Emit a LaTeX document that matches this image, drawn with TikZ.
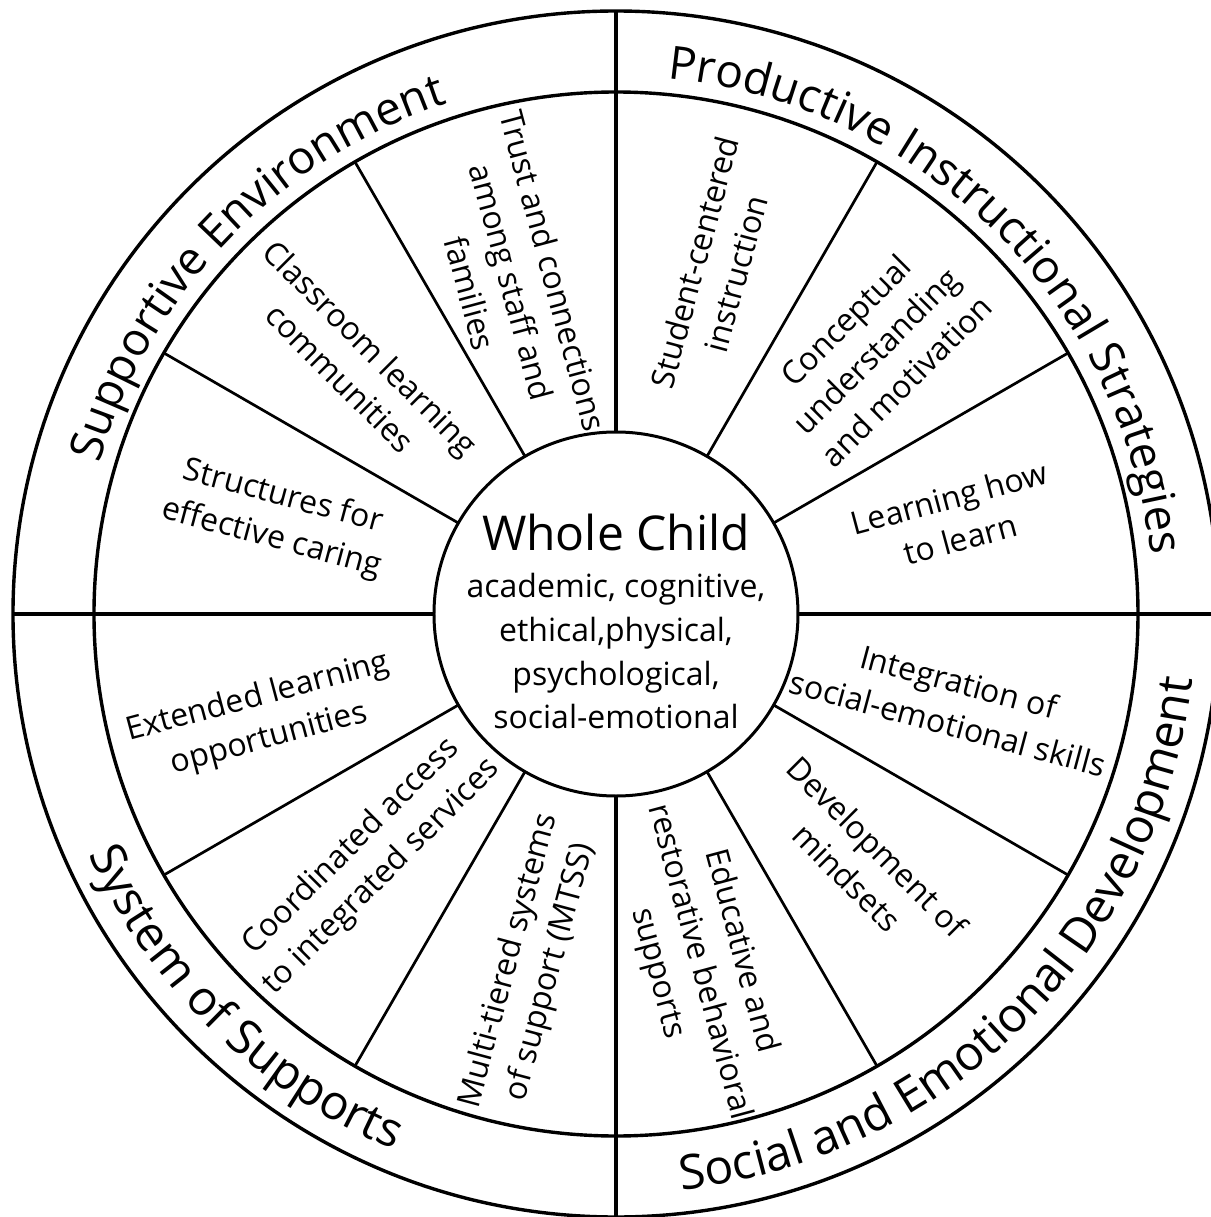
\documentclass[tikz,border=0pt]{standalone}
\usepackage{fontspec}
\setmainfont{Open Sans}
\usetikzlibrary{decorations.text}
\begin{document}
\begin{tikzpicture}[x=0.5pt,y=0.5pt,
  rim/.style={line width=1.7pt},
  axisline/.style={line width=1.6pt},
  spoke/.style={line width=1.35pt},
  seglabel/.style={align=center, inner sep=0pt, font=\fontsize{16}{21.5}\selectfont},
  corebody/.style={anchor=base, inner sep=0pt, font=\fontsize{16}{22}\selectfont},
  ringlabel/.style={decorate, decoration={text along path, text align=center,
      text={|\fontsize{23}{28}\selectfont|#1}}},
  ringlabelin/.style={decorate, decoration={text along path, text align=center,
      text={|\fontsize{24}{29}\selectfont|#1}}}
]
\useasboundingbox (-616,-603) rectangle (595,614);

% rings
\draw[rim] (0,0) circle[radius=603];
\draw[rim] (0,0) circle[radius=522];
\node[circle, draw, line width=1.5pt, minimum size=182pt, inner sep=0pt, outer sep=0pt] (core) at (0,0) {};

% spoke end points
\foreach \a in {30,60,120,150,210,240,300,330} \coordinate (rim\a) at (\a:522);
\foreach \a in {0,90,180,270} \coordinate (rim\a) at (\a:603);

% spokes
\foreach \a in {30,60,120,150,210,240,300,330} \draw[spoke] (core.\a) -- (rim\a);
\foreach \a in {0,90,180,270} \draw[axisline] (core.\a) -- (rim\a);

% centre text
\node[anchor=base, inner sep=0pt, font=\fontsize{24}{30}\selectfont] (title) at (0,64) {Whole Child};
\node[corebody] (dim1) at (0,17) {academic, cognitive,};
\node[corebody] (dim2) at (0,-27.7) {ethical,physical,};
\node[corebody] (dim3) at (0,-71) {psychological,};
\node[corebody] (dim4) at (0,-114) {social-emotional};

% segment labels
\node[seglabel, rotate=-75] (trust) at (107.4:348) {Trust and connections\\among staff and\\families};
\node[seglabel, rotate=75] (student) at (74:360) {Student-centered\\instruction};
\node[seglabel, rotate=45] (concept) at (45.4:370) {Conceptual\\understanding\\and motivation};
\node[seglabel, rotate=15] (learn) at (15.8:352) {Learning how\\to learn};
\node[seglabel, rotate=-15] (integ) at (-14.7:349) {Integration of\\social-emotional skills};
\node[seglabel, rotate=-45] (mind) at (-45.2:349.5) {Development of\\mindsets};
\node[seglabel, rotate=-75] (restor) at (-76.6:358) {Educative and\\restorative behavioral\\supports};
\node[seglabel, rotate=75] (mtss) at (256.3:363) {Multi-tiered systems\\of support (MTSS)};
\node[seglabel, rotate=45] (coord) at (224.8:351.6) {Coordinated access\\to integrated services};
\node[seglabel, rotate=15] (extend) at (196.5:367.7) {Extended learning\\opportunities};
\node[seglabel, rotate=-15] (struct) at (164.2:352) {Structures for\\effective caring};
\node[seglabel, rotate=-45] (class) at (136:362) {Classroom learning\\communities};

% ring labels: upper ones run clockwise, lower ones counter-clockwise
\path[ringlabel={Supportive Environment}] (216:538) arc[start angle=216, end angle=56, radius=538];
\path[ringlabel={Productive Instructional Strategies}] (125.4:538) arc[start angle=125.4, end angle=-34.6, radius=538];
\path[ringlabelin={Social and Emotional Development}] (235:580) arc[start angle=235, end angle=395, radius=580];
\path[ringlabelin={System of Supports}] (166:580) arc[start angle=166, end angle=286, radius=580];
\end{tikzpicture}
\end{document}
